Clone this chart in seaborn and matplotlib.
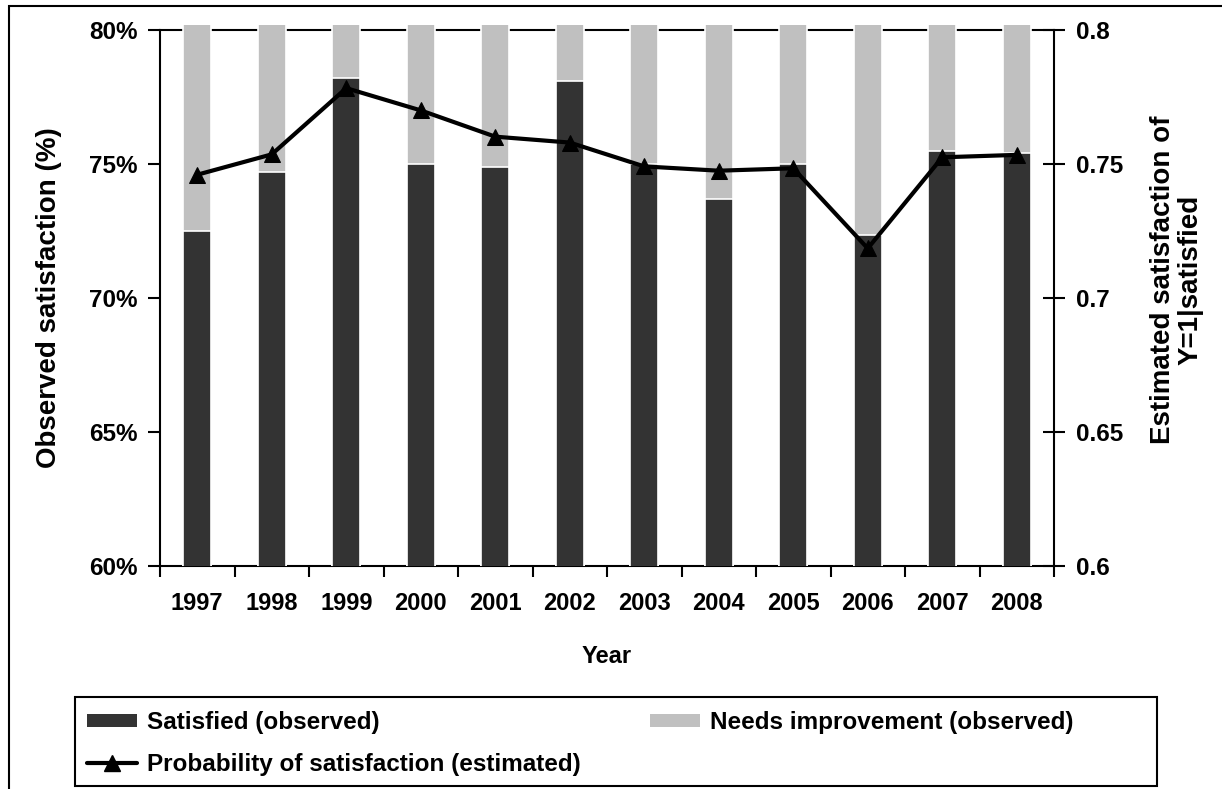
import numpy as np
import pandas as pd
import matplotlib
matplotlib.use("Agg")
import matplotlib.pyplot as plt
from matplotlib.patches import Rectangle, Patch
from matplotlib.lines import Line2D
import seaborn as sns

# Survey results per year
years = ["1997", "1998", "1999", "2000", "2001", "2002",
         "2003", "2004", "2005", "2006", "2007", "2008"]
satisfied = [0.725, 0.747, 0.782, 0.750, 0.749, 0.781,
             0.750, 0.737, 0.750, 0.7235, 0.755, 0.754]
needs_improvement = [0.275, 0.253, 0.218, 0.250, 0.251, 0.219,
                     0.250, 0.263, 0.250, 0.2765, 0.245, 0.246]
probability = [0.746, 0.7536, 0.7783, 0.770, 0.7602, 0.758,
               0.7491, 0.7475, 0.7484, 0.7185, 0.7525, 0.7534]

left_ticks = [0.60, 0.65, 0.70, 0.75, 0.80]
left_labels = ["60%", "65%", "70%", "75%", "80%"]
right_labels = ["0.6", "0.65", "0.7", "0.75", "0.8"]

DARK = "#333333"
LIGHT = "#c0c0c0"

sns.set_style("ticks")
plt.rcParams["font.family"] = ["Liberation Sans", "DejaVu Sans"]
plt.rcParams["font.weight"] = "bold"
plt.rcParams["text.color"] = "black"
plt.rcParams["axes.labelcolor"] = "black"
plt.rcParams["xtick.color"] = "black"
plt.rcParams["ytick.color"] = "black"

W, H = 1222, 789
fig = plt.figure(figsize=(W / 100, H / 100), dpi=100)
ax = fig.add_axes([160 / W, 1 - 566 / H, 894 / W, 536 / H])

df = pd.DataFrame({
    "Year": years,
    "Satisfied": satisfied,
    "Total": [s + n for s, n in zip(satisfied, needs_improvement)],
})

# Stacked bars: full response share in light grey, satisfied share in dark grey on top
sns.barplot(data=df, x="Year", y="Total", color=LIGHT, width=0.38,
            edgecolor="white", linewidth=1.2, saturation=1, ax=ax)
sns.barplot(data=df, x="Year", y="Satisfied", color=DARK, width=0.38,
            edgecolor="white", linewidth=1.2, saturation=1, ax=ax)

ax.set_ylim(0.6, 0.8)
ax.set_xlim(-0.5, 11.5)
clip = Rectangle((0, 0), 1, 1 + 5 / 536, transform=ax.transAxes)
for p in ax.patches:
    p.set_zorder(3)
    p.set_clip_path(clip)

ax.set_yticks(left_ticks)
ax.set_yticklabels(left_labels)
ax.set_xticks(range(len(years)))
ax.set_xticklabels(years)
ax.set_xticks(np.arange(-0.5, len(years), 1), minor=True)
ax.tick_params(axis="x", which="major", length=0, pad=19, labelsize=17,
               labelcolor="black")
ax.tick_params(axis="x", which="minor", length=8, width=1.5, direction="out",
               color="black")
ax.tick_params(axis="y", length=9, width=1.5, direction="out", pad=7,
               labelsize=17.5, color="black", labelcolor="black")
for s in ax.spines.values():
    s.set_color("black")
    s.set_linewidth(1.5)
ax.set_xlabel("Year", fontsize=17, fontweight="bold", labelpad=21,
              color="black")
ax.set_ylabel("")

# Estimated probability on a secondary axis
ax2 = ax.twinx()
sns.lineplot(x=np.arange(len(years)), y=probability, ax=ax2, color="black",
             linewidth=3, marker="^", markersize=12, markeredgecolor="black",
             zorder=5)
ax2.set_ylim(0.6, 0.8)
ax2.set_xlim(-0.5, 11.5)
ax2.set_yticks(left_ticks)
ax2.set_yticklabels(right_labels)
ax2.tick_params(axis="y", length=16, width=1.5, direction="inout", pad=8,
                labelsize=17.5, color="black", labelcolor="black")
for s in ax2.spines.values():
    s.set_visible(False)

fig.text(49 / W, 1 - 298 / H, "Observed satisfaction (%)", rotation=90,
         ha="center", va="center", fontsize=20, fontweight="bold",
         color="black")
fig.text(1177 / W, 1 - 280 / H, "Estimated satisfaction of\nY=1|satisfied",
         rotation=90, ha="center", va="center", fontsize=20,
         fontweight="bold", multialignment="center", linespacing=1.05,
         color="black")

# Outer frame around the figure
fig.patches.append(Rectangle((9 / W, -0.1), 2, (H - 6) / H + 0.1,
                             transform=fig.transFigure, fill=False,
                             edgecolor="black", linewidth=1.5))
# Legend box
fig.patches.append(Rectangle((75 / W, 1 - 786 / H), 1082 / W, 89 / H,
                             transform=fig.transFigure, fill=False,
                             edgecolor="black", linewidth=1.5))

handles = [
    Patch(facecolor=DARK, edgecolor="none"),
    Line2D([0], [0], color="black", linewidth=3, marker="^", markersize=11),
    Patch(facecolor=LIGHT, edgecolor="none"),
]
labels = ["Satisfied (observed)", "Probability of satisfaction (estimated)",
          "Needs improvement (observed)"]
fig.legend(handles, labels, ncol=2, loc="center left",
           bbox_to_anchor=(87 / W, 1 - 743.5 / H), frameon=False,
           borderpad=0, borderaxespad=0, fontsize=17.5, labelcolor="black",
           handlelength=2.06, handleheight=0.45, handletextpad=0.41,
           labelspacing=0.78, columnspacing=2.85)

fig.savefig("out.png", dpi=100)
